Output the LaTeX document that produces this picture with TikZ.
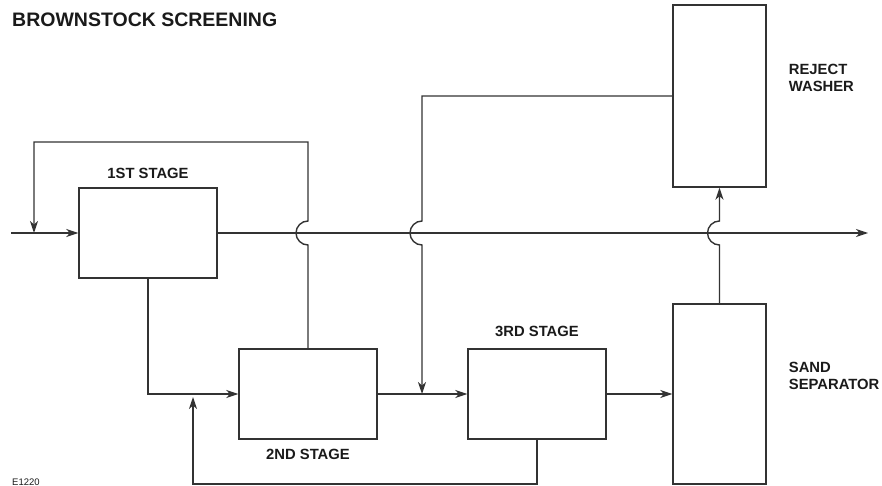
\documentclass[tikz,border=0pt]{standalone}
\usepackage{fontspec}
\setmainfont{Liberation Sans}
\usepackage{tikz}
\usetikzlibrary{positioning,arrows.meta}
\definecolor{bsline}{HTML}{333333}
\definecolor{bsink}{HTML}{1A1A1A}
\tikzset{
  stage/.style={draw=bsline,line width=1.4pt,minimum width=138pt,minimum height=90pt,inner sep=0pt},
  tank/.style={stage,minimum width=93pt,minimum height=180pt},
  lbl/.style={font=\bfseries\fontsize{14.8}{17.5}\selectfont,text=bsink,inner sep=0pt,align=left},
  pipe/.style={line width=1.4pt,draw=bsline},
  lnk/.style={pipe,-{Stealth[length=12pt,width=8pt,inset=3.5pt]}},
}

\begin{document}
\begin{tikzpicture}[x=1pt,y=-1pt]
  \useasboundingbox (0,0) rectangle (882,486);
  \node[anchor=base west,font=\bfseries\fontsize{19.5}{22}\selectfont,text=bsink,inner sep=0pt] (title) at (12,27) {BROWNSTOCK SCREENING};
  \node[anchor=base west,font=\fontsize{9.5}{11}\selectfont,text=bsink,inner sep=0pt] (code) at (12,485) {E1220};

  % screens and tanks
  \node[stage] (s1) at (148,233) {};
  \node[stage] (s2) at (308,394) {};
  \node[stage] (s3) at (537,394) {};
  \node[tank] (sand) at (719.5,394) {};
  \node[tank,minimum height=182pt] (washer) at (719.5,96) {};

  \node[lbl,above=8pt of s1] (s1lbl) {1ST STAGE};
  \node[lbl,below=9pt of s2] (s2lbl) {2ND STAGE};
  \node[lbl,above=11pt of s3] (s3lbl) {3RD STAGE};
  \node[lbl,right=22pt of sand,yshift=18pt] (sandlbl) {SAND\\SEPARATOR};
  \node[lbl,right=22pt of washer,yshift=18pt] (washlbl) {REJECT\\WASHER};

  \coordinate (in) at (11,233);
  \coordinate (out) at (868,233);
  \coordinate (loopL) at (34,142);
  \coordinate (hopA) at (s2.north |- s1.east);
  \coordinate (hopB) at (422,233);
  \coordinate (hopC) at (sand.north |- s1.east);
  \coordinate (botL) at (193,484);
  \coordinate (recyc) at (193,397);

  \draw[lnk] (in) -- (s1.west);
  \draw[lnk] (s1.east) -- (out);
  \draw[lnk] (s1.south) |- (s2.west);
  \draw[lnk] (s2.east) -- (s3.west);
  \draw[lnk] (s3.east) -- (sand.west |- s3.east);
  \draw[lnk] (s2.north) -- ([yshift=-12pt]hopA) arc[start angle=-90,end angle=-270,radius=12pt] |- (loopL) -- (loopL |- s1.west);
  \draw[lnk] (washer.west) -| ([yshift=12pt]hopB) arc[start angle=90,end angle=270,radius=12pt] -- (hopB |- s3.west);
  \draw[lnk] (sand.north) -- ([yshift=-12pt]hopC) arc[start angle=-90,end angle=-270,radius=12pt] -- (washer.south);
  \draw[lnk] (s3.south) |- (botL) -- (recyc);
\end{tikzpicture}
\end{document}
